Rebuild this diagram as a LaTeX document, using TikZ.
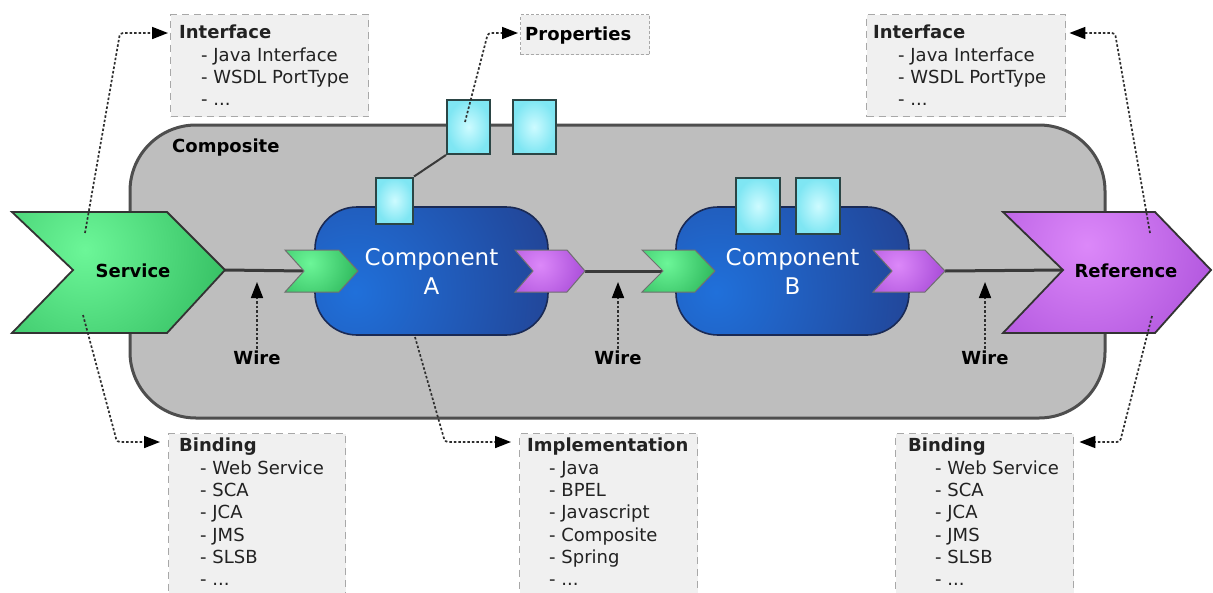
\documentclass[tikz,border=0pt]{standalone}
\usepackage{fontspec}
\setmainfont{DejaVu Sans}
\usetikzlibrary{arrows.meta}

\definecolor{compfill}{HTML}{BEBEBE}
\definecolor{compline}{HTML}{4E4E4E}
\definecolor{notefill}{HTML}{F0F0F0}
\definecolor{noteline}{HTML}{A8A8A8}
\definecolor{notetextc}{HTML}{222222}
\definecolor{svcin}{HTML}{6CF698}
\definecolor{svcout}{HTML}{2DB75B}
\definecolor{refin}{HTML}{DC88F9}
\definecolor{refout}{HTML}{A548D6}
\definecolor{cmpin}{HTML}{2070DA}
\definecolor{cmpout}{HTML}{223F8E}
\definecolor{cmpedge}{HTML}{1A2A55}
\definecolor{propin}{HTML}{CDFBFF}
\definecolor{propout}{HTML}{7FE6F3}
\definecolor{propline}{HTML}{2B4545}
\definecolor{wirec}{HTML}{3A3A3A}
\definecolor{chevline}{HTML}{333333}
\definecolor{linkc}{HTML}{2E2E2E}

\begin{document}
\begin{tikzpicture}[x=1pt,y=-1pt,
  composite/.style={draw=compline, line width=3pt, fill=compfill,
    rounded corners=66pt, inner sep=0pt},
  component/.style={draw=cmpedge, line width=1.6pt, fill=cmpout,
    rounded corners=42pt, minimum width=233pt, minimum height=128pt,
    inner sep=0pt, text=white, align=center,
    font=\fontsize{23}{29}\selectfont,
    path picture={\shade[inner color=cmpin, outer color=cmpout]
      ([shift={(40,85)}]path picture bounding box.north west) circle (230pt);}},
  propbox/.style={draw=propline, line width=2pt, inner color=propin,
    outer color=propout, inner sep=0pt},
  bigsvc/.style={draw=chevline, line width=1.8pt, fill=svcout,
    path picture={\shade[inner color=svcin, outer color=svcout]
      ([shift={(73,38)}]path picture bounding box.north west) circle (170pt);}},
  bigref/.style={draw=chevline, line width=1.8pt, fill=refout,
    path picture={\shade[inner color=refin, outer color=refout]
      ([shift={(84,33)}]path picture bounding box.north west) circle (170pt);}},
  smallsvc/.style={draw=chevline!70, line width=1pt, fill=svcout,
    path picture={\shade[inner color=svcin, outer color=svcout]
      ([shift={(25,13)}]path picture bounding box.north west) circle (50pt);}},
  smallref/.style={draw=chevline!70, line width=1pt, fill=refout,
    path picture={\shade[inner color=refin, outer color=refout]
      ([shift={(25,15)}]path picture bounding box.north west) circle (50pt);}},
  wire/.style={draw=wirec, line width=3pt},
  propwire/.style={draw=wirec, line width=2pt},
  link/.style={draw=linkc, line width=1.7pt, dash pattern=on 2.5pt off 2pt,
    rounded corners=3pt, -{Triangle[length=16pt,width=12pt,fill=black,color=black]}},
  note/.style={draw=noteline, fill=notefill, line width=1.4pt,
    dash pattern=on 7pt off 5pt, anchor=north west, inner sep=0pt},
  propnote/.style={note, dash pattern=on 3pt off 2pt},
  notetext/.style={anchor=north west, align=left, inner sep=0pt,
    text=notetextc, font=\fontsize{18}{22.3}\selectfont},
  boldlabel/.style={inner sep=0pt, text=black, font=\fontsize{18}{22}\selectfont\bfseries},
]
\useasboundingbox (0,0) rectangle (1213,592);
\clip (0,0) rectangle (1213,592);
\fill[white] (0,0) rectangle (1213,592);

% ---------- composite container ----------
\node[composite, minimum width=975pt, minimum height=293pt] (comp) at (617.5,271.5) {};
\node[boldlabel, anchor=west] (comp-label) at (172,148) {Composite};

% composite-level properties
\node[propbox, minimum width=43pt, minimum height=54pt] (cprop1) at (468.5,127) {};
\node[propbox, minimum width=43pt, minimum height=54pt] (cprop2) at (534,127) {};

% ---------- components ----------
\node[component] (compA) at (431.5,271) {Component\\A};
\node[component] (compB) at (792.5,271) {Component\\B};

% component properties
\node[propbox, minimum width=37pt, minimum height=46pt] (aprop) at (394.5,200.5) {};
\node[propbox, minimum width=44pt, minimum height=56pt] (bprop1) at (758,206) {};
\node[propbox, minimum width=44pt, minimum height=56pt] (bprop2) at (818,206) {};
\draw[propwire] (aprop.north east) -- (cprop1.south west);

% ---------- anchor points of the chevrons ----------
\coordinate (svc-tip) at (225,270);
\coordinate (ain-notch) at (304,271);
\coordinate (aout-tip) at (585,271);
\coordinate (bin-notch) at (663,271);
\coordinate (bout-tip) at (945,271);
\coordinate (ref-notch) at (1063,270);

% ---------- wires ----------
\draw[wire] (svc-tip) -- (ain-notch);
\draw[wire] (aout-tip) -- (bin-notch);
\draw[wire] (bout-tip) -- (ref-notch);

% ---------- component service / reference chevrons ----------
\path[smallsvc] (285,250) -- (339,250) -- (358,271) -- (339,292) -- (285,292) -- (ain-notch) -- cycle;
\path[smallref] (515,250) -- (567,250) -- (aout-tip) -- (567,292) -- (515,292) -- (533,271) -- cycle;
\path[smallsvc] (642,250) -- (695,250) -- (715,271) -- (695,292) -- (642,292) -- (bin-notch) -- cycle;
\path[smallref] (873,250) -- (925,250) -- (bout-tip) -- (925,292) -- (873,292) -- (892,271) -- cycle;

% ---------- composite service and reference ----------
\path[bigsvc] (12,212) -- (167,212) -- (svc-tip) -- (167,333) -- (12,333) -- (73,270) -- cycle;
\path[bigref] (1003,212) -- (1155,212) -- (1211,270) -- (1155,333) -- (1003,333) -- (ref-notch) -- cycle;
\node[boldlabel] (svc-label) at (133,271) {Service};
\node[boldlabel] (ref-label) at (1126,271) {Reference};

% ---------- wire labels ----------
\node[boldlabel] (wire1) at (257,358) {Wire};
\node[boldlabel] (wire2) at (618,358) {Wire};
\node[boldlabel] (wire3) at (985,358) {Wire};
\coordinate (wire1-tip) at (257,282);
\coordinate (wire2-tip) at (618,282);
\coordinate (wire3-tip) at (985,282);
\draw[link, rounded corners=0pt] ([yshift=2pt]wire1.north) -- (wire1-tip);
\draw[link, rounded corners=0pt] ([yshift=2pt]wire2.north) -- (wire2-tip);
\draw[link, rounded corners=0pt] ([yshift=2pt]wire3.north) -- (wire3-tip);

% ---------- annotation boxes ----------
\node[note, minimum width=198pt, minimum height=102pt] (ifl) at (170,14) {};
\node[notetext] (ifl-text) at (179,25) {\textbf{Interface}\\
  \hspace*{22pt}- Java Interface\\
  \hspace*{22pt}- WSDL PortType\\
  \hspace*{22pt}- ...};

\node[propnote, minimum width=129pt, minimum height=40pt] (props) at (520,14) {};
\node[boldlabel, anchor=base west] (props-text) at (525,40) {Properties};

\node[note, minimum width=199pt, minimum height=102pt] (ifr) at (866,14) {};
\node[notetext] (ifr-text) at (873,25) {\textbf{Interface}\\
  \hspace*{25pt}- Java Interface\\
  \hspace*{25pt}- WSDL PortType\\
  \hspace*{25pt}- ...};

\node[note, minimum width=177pt, minimum height=180pt] (bnl) at (168,433) {};
\node[notetext] (bnl-text) at (179,438) {\textbf{Binding}\\
  \hspace*{21pt}- Web Service\\
  \hspace*{21pt}- SCA\\
  \hspace*{21pt}- JCA\\
  \hspace*{21pt}- JMS\\
  \hspace*{21pt}- SLSB\\
  \hspace*{21pt}- ...};

\node[note, minimum width=178pt, minimum height=180pt] (impl) at (519,433) {};
\node[notetext] (impl-text) at (527,438) {\textbf{Implementation}\\
  \hspace*{22pt}- Java\\
  \hspace*{22pt}- BPEL\\
  \hspace*{22pt}- Javascript\\
  \hspace*{22pt}- Composite\\
  \hspace*{22pt}- Spring\\
  \hspace*{22pt}- ...};

\node[note, minimum width=178pt, minimum height=180pt] (bnr) at (895,433) {};
\node[notetext] (bnr-text) at (908,438) {\textbf{Binding}\\
  \hspace*{27pt}- Web Service\\
  \hspace*{27pt}- SCA\\
  \hspace*{27pt}- JCA\\
  \hspace*{27pt}- JMS\\
  \hspace*{27pt}- SLSB\\
  \hspace*{27pt}- ...};

% ---------- dotted annotation links ----------
\coordinate (svc-up) at (85,233);
\coordinate (svc-down) at (83,315);
\coordinate (ref-up) at (1150,233);
\coordinate (ref-down) at (1152,316);
\coordinate (a-down) at (415,337);
\coordinate (prop-in) at (465,122);

\draw[link] (svc-up) -- (120,33) -- ([shift={(-2,19)}]ifl.north west);
\draw[link] (svc-down) -- (117,442) -- ([shift={(-8,9)}]bnl.north west);
\draw[link] (a-down) -- (445,442) -- ([shift={(-8,9)}]impl.north west);
\draw[link] (prop-in) -- (488,33) -- ([shift={(-2,19)}]props.north west);
\draw[link] (ref-up) -- (1115,33) -- ([shift={(3,19)}]ifr.north east);
\draw[link] (ref-down) -- (1120,442) -- ([shift={(5,9)}]bnr.north east);
\end{tikzpicture}
\end{document}
